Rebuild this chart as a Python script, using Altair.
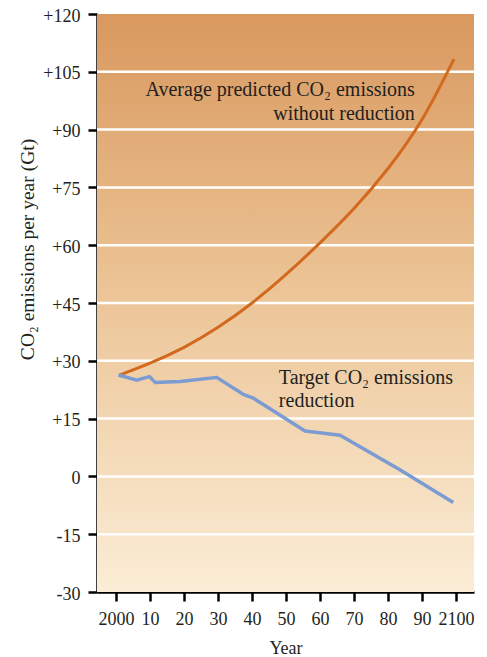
import altair as alt
import pandas as pd

# Data
pred_years = [2001, 2010, 2020, 2030, 2040, 2050, 2060, 2070, 2080, 2090, 2099.4]
pred_values = [26.3, 29.4, 33.5, 38.7, 45.0, 52.4, 60.6, 69.5, 79.9, 92.6, 108.3]

target_years = [2000.7, 2006.1, 2009.8, 2011.5, 2018.8, 2029.6, 2037.4, 2040.2, 2055.6, 2065.9, 2083.5, 2099.2]
target_values = [26.3, 25.0, 25.9, 24.4, 24.6, 25.7, 21.3, 20.4, 11.8, 10.7, 1.7, -6.8]

y_ticks = [-30, -15, 0, 15, 30, 45, 60, 75, 90, 105, 120]
grid_values = [-15, 0, 15, 30, 45, 60, 75, 90, 105]
x_ticks = [2000, 2010, 2020, 2030, 2040, 2050, 2060, 2070, 2080, 2090, 2100]

ann_text = ["Average predicted CO\u2082 emissions", "without reduction",
            "Target CO\u2082 emissions", "reduction"]
ann_x = [2087.9, 2087.9, 2047.9, 2047.9]
ann_y = [100.3, 94.1, 25.5, 19.6]
ann_align = ["right", "right", "left", "left"]

FONT = "Liberation Serif"
XDOM = [1994.4, 2105.3]
YDOM = [-30, 120]

pred_df = pd.DataFrame({"year": pred_years, "value": pred_values})
target_df = pd.DataFrame({"year": target_years, "value": target_values})
grid_df = pd.DataFrame({"value": grid_values})
ann_df = pd.DataFrame({"text": ann_text, "year": ann_x, "value": ann_y, "align": ann_align})

xscale = alt.Scale(domain=XDOM, nice=False, zero=False)
yscale = alt.Scale(domain=YDOM, nice=False, zero=False)

x_axis = alt.Axis(values=x_ticks, title="Year", labelOverlap=False,
                  labelPadding=9, titlePadding=11,
                  labelExpr="datum.value == 2000 || datum.value == 2100 ? '' + datum.value : format(datum.value % 100, '02d')")
y_axis = alt.Axis(values=y_ticks, title="CO\u2082 emissions per year (Gt)",
                  labelOverlap=False, labelPadding=8, labelOffset=2,
                  labelExpr="datum.value > 0 ? '+' + datum.value : '' + datum.value",
                  titleX=-70, titleY=235, titleAngle=-90, titleFontSize=19.5,
                  titleAlign="center", titleBaseline="middle")

X = alt.X("year:Q", scale=xscale, axis=x_axis)
Y = alt.Y("value:Q", scale=yscale, axis=y_axis)

bg = alt.Chart(pd.DataFrame({"a": [0]})).mark_rect(
    color=alt.Gradient(
        gradient="linear",
        stops=[
            alt.GradientStop(color="#D9985E", offset=0),
            alt.GradientStop(color="#EBC293", offset=0.45),
            alt.GradientStop(color="#FBEDD6", offset=1),
        ],
        x1=0, x2=0, y1=0, y2=1,
    )
).encode(
    x=alt.value(0), x2=alt.value("width"), y=alt.value(0), y2=alt.value("height")
)

grid = alt.Chart(grid_df).mark_rule(color="white", strokeWidth=2.5).encode(y=Y)

pred_line = alt.Chart(pred_df).mark_line(
    color="#D2691E", strokeWidth=3, interpolate="natural"
).encode(x=X, y=Y)

target_line = alt.Chart(target_df).mark_line(
    color="#7B9BD2", strokeWidth=3.5, strokeJoin="round"
).encode(x=X, y=Y)

ann_right = alt.Chart(ann_df[ann_df["align"] == "right"]).mark_text(
    align="right", baseline="middle", font=FONT, fontSize=20, color="#231F20"
).encode(x=X, y=Y, text="text:N")

ann_left = alt.Chart(ann_df[ann_df["align"] == "left"]).mark_text(
    align="left", baseline="middle", font=FONT, fontSize=20, color="#231F20"
).encode(x=X, y=Y, text="text:N")

chart = alt.layer(bg, grid, pred_line, target_line, ann_right, ann_left).properties(
    width=377, height=578,
    autosize=alt.AutoSizeParams(type="none"),
    padding={"left": 89, "top": 6, "right": 5, "bottom": 64},
    background="white",
).configure_view(stroke=None).configure_axis(
    domainColor="black", domainWidth=2.5, tickColor="black", tickWidth=2.5,
    tickSize=9, labelFont=FONT, labelFontSize=18, labelColor="#231F20",
    titleFont=FONT, titleFontSize=18, titleFontWeight="normal", titleColor="#231F20",
    grid=False,
)

chart.save("out.html", embed_options={"renderer": "svg", "actions": False})
